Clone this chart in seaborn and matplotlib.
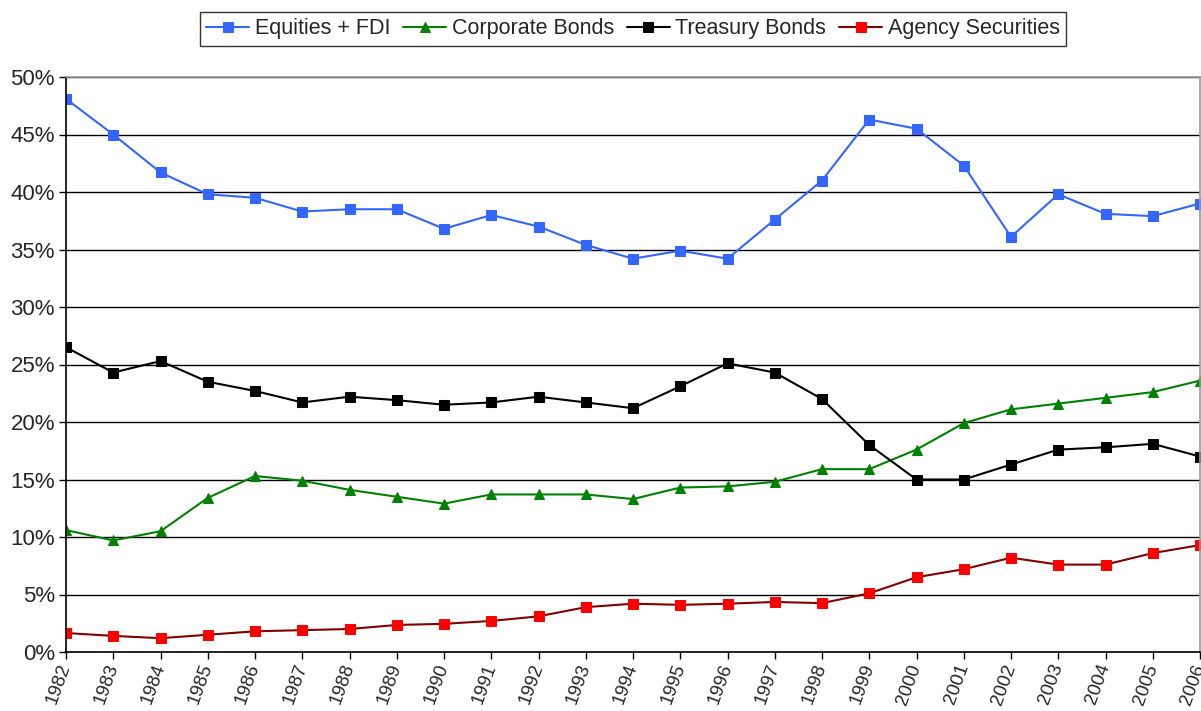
import matplotlib
matplotlib.use("Agg")
import matplotlib.pyplot as plt
import pandas as pd
import seaborn as sns
from matplotlib.ticker import FuncFormatter, MultipleLocator

years = list(range(1982, 2007))

equities_fdi = [48.1, 45.0, 41.7, 39.8, 39.5, 38.3, 38.5, 38.5, 36.8, 38.0,
                37.0, 35.4, 34.2, 34.9, 34.2, 37.6, 41.0, 46.3, 45.5, 42.3,
                36.1, 39.8, 38.1, 37.9, 39.0]
corporate_bonds = [10.6, 9.7, 10.5, 13.4, 15.3, 14.9, 14.1, 13.5, 12.9, 13.7,
                   13.7, 13.7, 13.3, 14.3, 14.4, 14.8, 15.9, 15.9, 17.6, 19.9,
                   21.1, 21.6, 22.1, 22.6, 23.6]
treasury_bonds = [26.5, 24.3, 25.3, 23.5, 22.7, 21.7, 22.2, 21.9, 21.5, 21.7,
                  22.2, 21.7, 21.2, 23.1, 25.1, 24.3, 22.0, 18.0, 15.0, 15.0,
                  16.3, 17.6, 17.8, 18.1, 17.0]
agency_securities = [1.65, 1.4, 1.2, 1.5, 1.8, 1.9, 2.0, 2.35, 2.45, 2.7,
                     3.1, 3.9, 4.2, 4.1, 4.2, 4.35, 4.25, 5.1, 6.5, 7.2,
                     8.2, 7.6, 7.6, 8.6, 9.3]

series_names = ["Equities + FDI", "Corporate Bonds", "Treasury Bonds", "Agency Securities"]

df = pd.DataFrame({
    "year": years,
    "Equities + FDI": equities_fdi,
    "Corporate Bonds": corporate_bonds,
    "Treasury Bonds": treasury_bonds,
    "Agency Securities": agency_securities,
})

styles = {
    "Equities + FDI": dict(color="#3366FF", marker="s", mfc="#3366FF", mec="#3366FF"),
    "Corporate Bonds": dict(color="#008000", marker="^", mfc="#008000", mec="#008000"),
    "Treasury Bonds": dict(color="#000000", marker="s", mfc="#000000", mec="#000000"),
    "Agency Securities": dict(color="#800000", marker="s", mfc="#FF0000", mec="#FF0000"),
}

sns.set_style("white")
plt.rcParams["font.family"] = ["Liberation Sans", "DejaVu Sans"]

fig = plt.figure(figsize=(12.01, 7.11), dpi=100)
ax = fig.add_axes([66 / 1201, 59 / 711, 1134 / 1201, 575 / 711])

for name in series_names:
    st = styles[name]
    sns.lineplot(data=df, x="year", y=name, ax=ax, color=st["color"],
                 marker=st["marker"], markerfacecolor=st["mfc"],
                 markeredgecolor=st["mec"], markersize=7, linewidth=1.5,
                 label=name)

ax.set_xlim(1982, 2006)
ax.set_ylim(0, 50)
ax.yaxis.set_major_locator(MultipleLocator(5))
ax.yaxis.set_major_formatter(FuncFormatter(lambda v, p: f"{v:.0f}%"))
ax.set_xticks(years)
ax.set_xticklabels([str(y) for y in years], rotation=70, ha="right",
                   va="center", rotation_mode="anchor")
ax.tick_params(axis="x", labelsize=13.5, length=5, width=1, color="black",
               direction="out", bottom=True, pad=4)
ax.tick_params(axis="y", labelsize=16, length=5, width=1, color="black",
               direction="out", left=True, pad=3)
ax.set_xlabel("")
ax.set_ylabel("")
ax.grid(axis="y", color="black", linewidth=1)
ax.grid(axis="x", visible=False)
ax.set_axisbelow(True)

for side in ["left", "bottom"]:
    ax.spines[side].set_color("black")
    ax.spines[side].set_linewidth(1.2)
for side in ["top", "right"]:
    ax.spines[side].set_color("#999999")
    ax.spines[side].set_linewidth(1.2)

leg = ax.legend(loc="upper center", bbox_to_anchor=(0.5, 1.113), ncol=4,
                fontsize=15.5, frameon=True, fancybox=False, handlelength=2.0,
                handletextpad=0.25, columnspacing=0.6, borderpad=0.3,
                borderaxespad=0)
leg.get_frame().set_edgecolor("black")
leg.get_frame().set_linewidth(1)

fig.savefig("out.png", dpi=100)
